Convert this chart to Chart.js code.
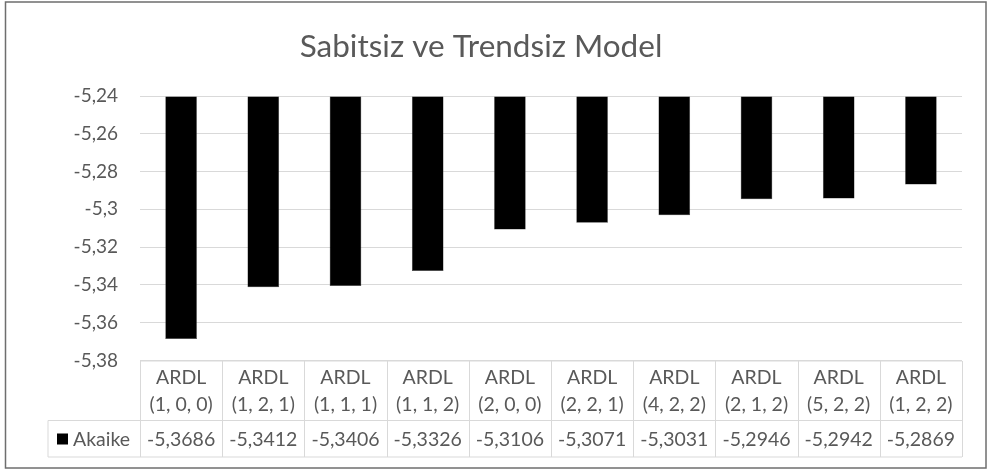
<!DOCTYPE html>
<html>
<head>
<meta charset="utf-8">
<script src="https://cdn.jsdelivr.net/npm/chart.js@4/dist/chart.umd.min.js"></script>
<style>
html,body{margin:0;padding:0;background:#fff;}
#wrap{width:991px;height:470px;position:relative;}
</style>
</head>
<body>
<div id="wrap"><canvas id="c" width="991" height="470"></canvas></div>
<script>
const chartTitle = "Sabitsiz ve Trendsiz Model";
const seriesName = "Akaike";
const categories = [
  ["ARDL", "(1, 0, 0)"],
  ["ARDL", "(1, 2, 1)"],
  ["ARDL", "(1, 1, 1)"],
  ["ARDL", "(1, 1, 2)"],
  ["ARDL", "(2, 0, 0)"],
  ["ARDL", "(2, 2, 1)"],
  ["ARDL", "(4, 2, 2)"],
  ["ARDL", "(2, 1, 2)"],
  ["ARDL", "(5, 2, 2)"],
  ["ARDL", "(1, 2, 2)"]
];
const akaike = [-5.3686, -5.3412, -5.3406, -5.3326, -5.3106, -5.3071, -5.3031, -5.2946, -5.2942, -5.2869];
const yMin = -5.38;
const yMax = -5.24;
const yStep = 0.02;

const FONT = "Lato";
const TXT = "#595959";
const GRID = "#d9d9d9";

function fmtTick(v){
  const r = Math.round(v * 100) / 100;
  return String(r).replace(".", ",");
}
function fmtVal(v){
  return v.toFixed(4).replace(".", ",");
}

const framePlugin = {
  id: "frame",
  beforeDraw(chart){
    const ctx = chart.ctx;
    ctx.save();
    ctx.fillStyle = "#ffffff";
    ctx.fillRect(0, 0, chart.width, chart.height);
    ctx.restore();
  },
  afterDraw(chart){
    const ctx = chart.ctx;
    ctx.save();
    ctx.strokeStyle = "#6e6e6e";
    ctx.lineWidth = 1.5;
    ctx.strokeRect(5.5, 2, 980.5, 466);
    ctx.restore();
  }
};

const tablePlugin = {
  id: "dataTable",
  afterDraw(chart){
    const ctx = chart.ctx;
    const xs = chart.scales.x;
    const area = chart.chartArea;
    const n = categories.length;
    const colW = (area.right - area.left) / n;
    const top = area.bottom + 0.5;
    const mid = top + 59.5;
    const bot = mid + 36.5;
    const legLeft = 48;
    ctx.save();
    ctx.strokeStyle = GRID;
    ctx.lineWidth = 1;
    ctx.beginPath();
    ctx.moveTo(area.left, top); ctx.lineTo(area.right, top);
    ctx.moveTo(legLeft, mid); ctx.lineTo(area.right, mid);
    ctx.moveTo(legLeft, bot); ctx.lineTo(area.right, bot);
    ctx.moveTo(legLeft, mid); ctx.lineTo(legLeft, bot);
    for (let i = 0; i <= n; i++){
      const x = Math.round(area.left + i * colW) + 0.5;
      ctx.moveTo(x, top); ctx.lineTo(x, bot);
    }
    ctx.stroke();

    ctx.fillStyle = TXT;
    ctx.font = "19.5px " + FONT;
    ctx.textAlign = "center";
    ctx.textBaseline = "middle";
    for (let i = 0; i < n; i++){
      const cx = xs.getPixelForValue(i);
      ctx.fillText(categories[i][0], cx, top + 17);
      ctx.fillText(categories[i][1], cx, top + 44);
      ctx.fillText(fmtVal(akaike[i]), cx, mid + 19);
    }
    // legend key
    ctx.fillStyle = "#000000";
    ctx.fillRect(57, mid + 13, 11, 11);
    ctx.fillStyle = TXT;
    ctx.textAlign = "left";
    ctx.fillText(seriesName, 73, mid + 19);
    ctx.restore();
  }
};

new Chart(document.getElementById("c"), {
  type: "bar",
  data: {
    labels: categories,
    datasets: [{
      label: seriesName,
      data: akaike,
      base: yMax,
      backgroundColor: "#000000",
      borderColor: "#3a3a3a",
      borderWidth: 0.5,
      categoryPercentage: 1,
      barPercentage: 0.385
    }]
  },
  options: {
    responsive: false,
    animation: false,
    devicePixelRatio: 1,
    layout: { padding: { left: 0, right: 29, top: 0, bottom: 109.5 } },
    plugins: {
      legend: { display: false },
      tooltip: { enabled: false },
      title: {
        display: true,
        text: chartTitle,
        color: TXT,
        font: { family: FONT, size: 31.5, weight: "normal", lineHeight: 1.2 },
        padding: { top: 28.1, bottom: 30.1 }
      }
    },
    scales: {
      x: { display: false, offset: true },
      y: {
        min: yMin,
        max: yMax,
        border: { display: false },
        grid: { color: GRID, lineWidth: 1, drawTicks: false },
        afterFit(scale){ scale.width = 140; },
        ticks: {
          stepSize: yStep,
          padding: 22,
          color: TXT,
          font: { family: FONT, size: 19 },
          callback: (v) => fmtTick(v)
        }
      }
    }
  },
  plugins: [framePlugin, tablePlugin]
});
</script>
</body>
</html>
